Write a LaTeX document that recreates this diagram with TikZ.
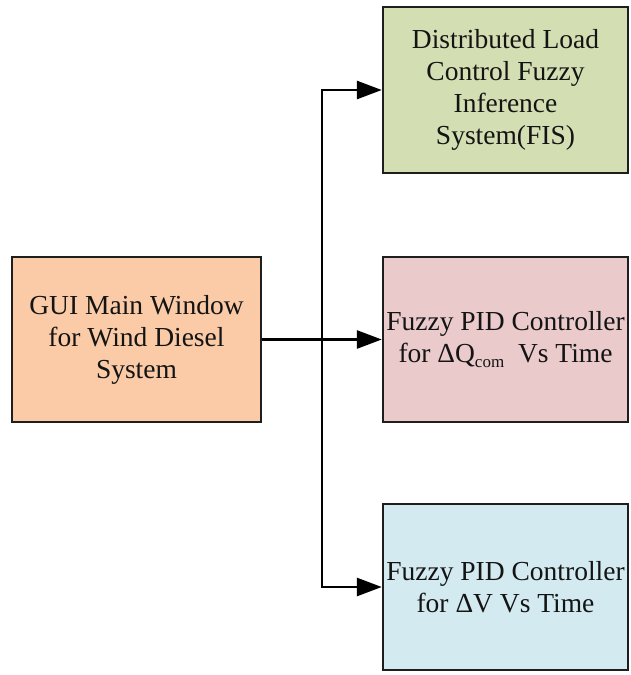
\documentclass[tikz,border=0pt]{standalone}
\usepackage{fontspec}
\setmainfont{Liberation Serif}
\usetikzlibrary{arrows.meta}
\definecolor{fisgreen}{HTML}{D3DFB3}
\definecolor{qpink}{HTML}{EBCACB}
\definecolor{vblue}{HTML}{D4EAF1}
\definecolor{guiorange}{HTML}{FACBA6}
\definecolor{edge}{HTML}{1E1E1E}
\begin{document}
\begin{tikzpicture}[x=1pt,y=-1pt,
  box/.style={draw=edge, line width=2.4pt, rectangle, align=center,
    inner sep=0pt, text=black!92,
    font=\fontsize{27.5}{32}\selectfont},
  conn/.style={draw=black, line width=2.8pt},
  arr/.style={conn, -{Triangle[length=25pt,width=18pt]}}]
\useasboundingbox (0,0) rectangle (631,675);
\node[box, fill=fisgreen, minimum width=245pt, minimum height=166pt] (fis) at (505.5,90)
  {Distributed Load\\Control Fuzzy\\Inference\\System(FIS)};
\node[box, fill=qpink, minimum width=245pt, minimum height=165pt] (pidq) at (505.5,339.5)
  {Fuzzy PID Controller\\for ΔQ\raisebox{-0.35ex}{\fontsize{17}{17}\selectfont com}\ \ Vs Time};
\node[box, fill=vblue, minimum width=245pt, minimum height=166pt] (pidv) at (505.5,587)
  {Fuzzy PID Controller\\for ΔV Vs Time};
\node[box, fill=guiorange, minimum width=249pt, minimum height=165pt] (gui) at (136.5,339.5)
  {GUI Main Window\\for Wind Diesel\\System};
\coordinate (jn) at (322,339.5);
\draw[arr] (gui.east) -- (pidq.west);
\draw[arr] (jn) |- (fis.west);
\draw[arr] (jn) |- (pidv.west);
\end{tikzpicture}
\end{document}
